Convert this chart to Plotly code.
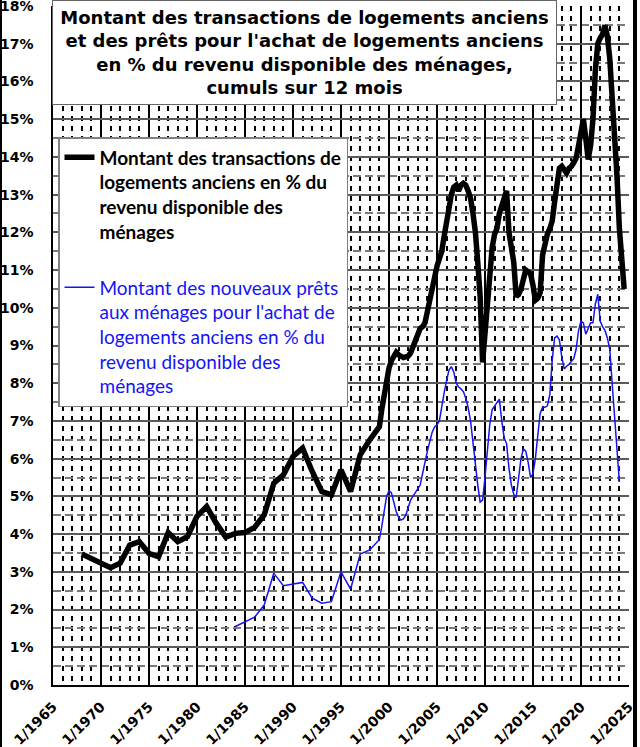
import plotly.graph_objects as go

# ---------------- data ----------------
black_annual_years = list(range(1968, 2000))
black_annual_values = [3.47, 3.35, 3.23, 3.11, 3.23, 3.71, 3.80, 3.49, 3.40, 4.04,
                       3.80, 3.93, 4.47, 4.73, 4.29, 3.92, 4.02, 4.04, 4.18, 4.51,
                       5.35, 5.57, 6.06, 6.28, 5.66, 5.13, 5.04, 5.70, 5.13, 6.10,
                       6.50, 6.85]
black_quarterly_start = (1999, 2)  # year, quarter of first quarterly point
black_quarterly_values = [7.3, 7.7, 8.1,
                          8.4, 8.6, 8.75, 8.82,
                          8.75, 8.7, 8.68, 8.7,
                          8.72, 8.8, 8.95, 9.1,
                          9.3, 9.45, 9.5, 9.6,
                          9.9, 10.2, 10.6, 10.9,
                          11.1, 11.3, 11.5, 11.9,
                          12.3, 12.7, 13.0, 13.2,
                          13.25, 13.1, 13.25, 13.3,
                          13.25, 13.1, 12.9, 12.5,
                          12.0, 11.2, 10.3, 8.55,
                          9.3, 10.1, 10.9, 11.6,
                          11.95, 12.1, 12.5, 12.7,
                          12.85, 13.1, 12.0, 11.5,
                          11.2, 10.3, 10.35, 10.5,
                          10.7, 11.0, 10.95, 10.9,
                          10.6, 10.2, 10.25, 10.4,
                          11.4, 11.7, 11.95, 12.1,
                          12.3, 12.8, 13.3, 13.7,
                          13.75, 13.65, 13.57, 13.7,
                          13.75, 13.85, 13.97, 14.3,
                          14.7, 15.0, 14.5, 13.93,
                          14.3, 15.0, 16.3, 17.0,
                          17.15, 17.25, 17.49, 17.2,
                          16.6, 15.7, 14.8, 13.5,
                          12.1, 11.3, 10.5]

blue_annual_years = list(range(1984, 2000))
blue_annual_values = [1.55, 1.68, 1.80, 2.12, 2.96, 2.63, 2.67, 2.72, 2.30, 2.17,
                      2.21, 3.00, 2.54, 3.47, 3.58, 3.86]
blue_quarterly_start = (1999, 2)
blue_quarterly_values = [4.2, 4.6, 5.0,
                         5.15, 5.1, 4.85, 4.6,
                         4.45, 4.37, 4.4, 4.5,
                         4.7, 4.9, 5.0, 5.1,
                         5.2, 5.3, 5.6, 5.95,
                         6.2, 6.45, 6.7, 6.84,
                         6.9, 7.0, 7.4, 7.75,
                         8.07, 8.35, 8.44, 8.3,
                         8.0, 7.9, 7.85, 7.78,
                         7.6, 7.35, 7.0, 6.4,
                         5.8, 5.3, 4.85, 4.9,
                         5.5, 6.3, 6.9, 7.3,
                         7.4, 7.5, 7.58, 7.0,
                         6.55, 6.4, 5.75, 5.3,
                         5.05, 4.97, 5.5, 6.0,
                         6.26, 6.2, 5.9, 5.5,
                         5.6, 6.0, 6.6, 7.2,
                         7.36, 7.36, 7.4, 7.7,
                         8.6, 9.2, 9.25, 9.15,
                         8.7, 8.38, 8.45, 8.5,
                         8.58, 8.65, 8.9, 9.4,
                         9.65, 9.6, 9.3, 9.45,
                         9.6, 9.6, 10.1, 10.36,
                         9.65, 9.5, 9.4, 9.2,
                         8.9, 8.0, 7.1, 6.2,
                         5.38]

x_tick_years = list(range(1965, 2030, 5))
x_tick_labels = ["1/%d" % y for y in x_tick_years]
y_tick_values = list(range(0, 19))
y_tick_labels = ["%d%%" % v for v in y_tick_values]

title_lines = ["Montant des transactions de logements anciens",
               "et des prêts pour l'achat de logements anciens",
               "en % du revenu disponible des ménages,",
               "cumuls sur 12 mois"]
black_name_lines = ["Montant des transactions de",
                    "logements anciens en % du",
                    "revenu disponible des",
                    "ménages"]
blue_name_lines = ["Montant des nouveaux prêts",
                   "aux ménages pour l'achat de",
                   "logements anciens en % du",
                   "revenu disponible des",
                   "ménages"]

BLUE = "#1414f5"


def quarterly_dates(start, n):
    y, q = start
    out = []
    for _ in range(n):
        out.append("%d-%02d-01" % (y, 3 * (q - 1) + 1))
        q += 1
        if q > 4:
            q = 1
            y += 1
    return out


black_x = ["%d-01-01" % y for y in black_annual_years] + \
    quarterly_dates(black_quarterly_start, len(black_quarterly_values))
black_y = black_annual_values + black_quarterly_values
blue_x = ["%d-01-01" % y for y in blue_annual_years] + \
    quarterly_dates(blue_quarterly_start, len(blue_quarterly_values))
blue_y = blue_annual_values + blue_quarterly_values

fig = go.Figure()
fig.add_trace(go.Scatter(
    x=black_x, y=black_y, mode="lines",
    line=dict(color="black", width=5.5),
    name="<br>".join("<b>%s</b>" % s for s in black_name_lines),
    legendgroup="a"))
fig.add_trace(go.Scatter(
    x=blue_x, y=blue_y, mode="lines",
    line=dict(color=BLUE, width=1.5),
    name="<br>".join("<span style='color:%s'>%s</span>" % (BLUE, s) for s in blue_name_lines),
    legendgroup="b"))

# pixel helpers for paper coordinates
L, R, T, B = 53, 629, 6, 685
W, H = R - L, B - T


def px(xp):
    return (xp - L) / W


def py(yp):
    return (B - yp) / H


fig.update_layout(
    width=640, height=747,
    margin=dict(l=L, r=640 - R, t=T, b=747 - B, autoexpand=False),
    plot_bgcolor="white", paper_bgcolor="white",
    showlegend=True,
    legend=dict(x=px(58), y=py(137), xanchor="left", yanchor="top",
                bgcolor="white", bordercolor="#7f7f7f", borderwidth=1.5,
                font=dict(family="Lato", size=19, color="black"),
                valign="top", tracegroupgap=28),
    xaxis=dict(type="date", range=["1965-01-01", "2025-01-01"], automargin=False,
               tickvals=["%d-01-01" % y for y in x_tick_years],
               ticktext=x_tick_labels, tickangle=-45,
               tickfont=dict(family="DejaVu Sans", size=14, color="black", weight="bold"),
               ticklabeloverflow="allow", ticklabelstandoff=6,
               showgrid=True, gridcolor="black", gridwidth=1.5,
               minor=dict(dtick="M12", tick0="1965-01-01", showgrid=True,
                          gridcolor="black", gridwidth=2, griddash="5px,5px"),
               showline=True, linecolor="black", linewidth=2, zeroline=False),
    yaxis=dict(range=[0, 18], tickvals=y_tick_values, ticktext=y_tick_labels, automargin=False,
               tickfont=dict(family="DejaVu Sans", size=14, color="black", weight="bold"),
               ticklabeloverflow="allow",
               ticklabelstandoff=15,
               showgrid=True, gridcolor="#5a5a5a", gridwidth=1.5,
               minor=dict(dtick=0.5, showgrid=True, gridcolor="#7a7a7a",
                          gridwidth=1.5, griddash="8px,4px"),
               showline=True, linecolor="black", linewidth=1.5, zeroline=False),
    annotations=[dict(
        text="<br>".join("<b>%s</b>" % s for s in title_lines),
        xref="paper", yref="paper", x=px(52), y=py(0),
        xanchor="left", yanchor="top", showarrow=False,
        width=501, height=101, align="center", valign="middle",
        bgcolor="white", bordercolor="#666666", borderwidth=1, borderpad=1,
        font=dict(family="DejaVu Sans", size=18, color="black"))],
    shapes=[
        dict(type="rect", xref="paper", yref="paper", x0=px(0), x1=px(2),
             y0=py(747), y1=py(0), fillcolor="black", line=dict(width=0), layer="below"),
        dict(type="rect", xref="paper", yref="paper", x0=px(633), x1=px(637),
             y0=py(747), y1=py(0), fillcolor="black", line=dict(width=0), layer="above"),
    ],
)

fig.write_html("out.html", config={"displayModeBar": False},
               post_script="document.body.style.margin='0px';"
                           "document.body.style.overflow='hidden';")
